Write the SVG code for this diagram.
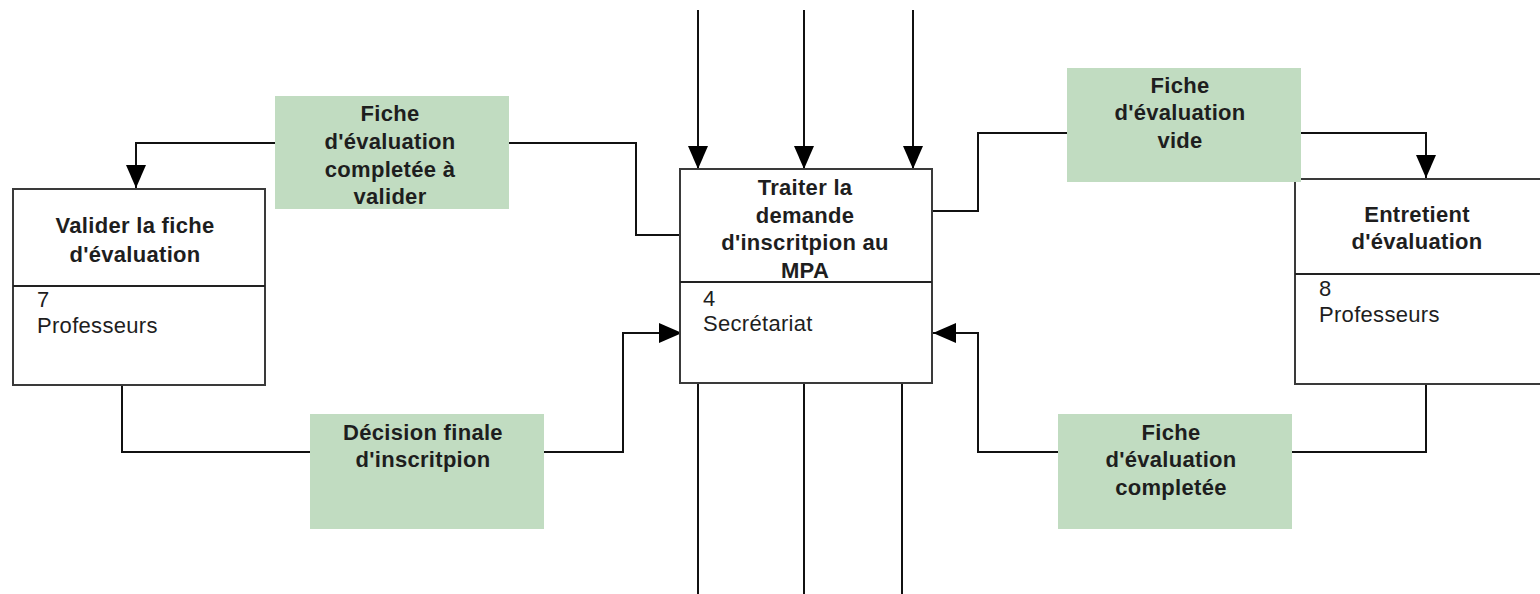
<svg xmlns="http://www.w3.org/2000/svg" width="1540" height="594" viewBox="0 0 1540 594">
<style>
.bg{fill:#ffffff}
.box{fill:#ffffff;stroke:#3a3a3a;stroke-width:2}
.div{stroke:#222;stroke-width:2}
.data{fill:#c1dcc1;stroke:none}
.con{fill:none;stroke:#111;stroke-width:2}
.t{font-family:"Liberation Sans",Arial,sans-serif;font-size:22px;fill:#1e1e1e;letter-spacing:0.3px}
.b{font-weight:bold;text-anchor:middle}
</style>
<defs>
<marker id="arr" markerUnits="userSpaceOnUse" markerWidth="24" markerHeight="22" refX="23" refY="10" orient="auto">
<path d="M0,0 L23,10 L0,20 Z" fill="#000"/>
</marker>
</defs>
<rect class="bg" x="0" y="0" width="1540" height="594"/>
<g id="connectors">
<line class="con" x1="698" y1="10" x2="698" y2="169" marker-end="url(#arr)"/>
<line class="con" x1="804" y1="10" x2="804" y2="169" marker-end="url(#arr)"/>
<line class="con" x1="913" y1="10" x2="913" y2="169" marker-end="url(#arr)"/>
<line class="con" x1="698" y1="384" x2="698" y2="594"/>
<line class="con" x1="804" y1="384" x2="804" y2="594"/>
<line class="con" x1="902" y1="384" x2="902" y2="594"/>
<polyline class="con" points="275,143 136,143 136,188" marker-end="url(#arr)"/>
<polyline class="con" points="509,143 636,143 636,235 683,235"/>
<polyline class="con" points="932,211 978,211 978,133 1067,133"/>
<polyline class="con" points="1301,133 1426,133 1426,178" marker-end="url(#arr)"/>
<polyline class="con" points="122,385 122,452 310,452"/>
<polyline class="con" points="544,452 623,452 623,333 682,333" marker-end="url(#arr)"/>
<polyline class="con" points="1058,452 978,452 978,333 933,333" marker-end="url(#arr)"/>
<polyline class="con" points="1292,452 1426,452 1426,384"/>
</g>
<g id="node-valider">
<rect class="box" x="13" y="189" width="252" height="196"/>
<line class="div" x1="13" y1="286" x2="265" y2="286"/>
<text class="t b" x="135" y="233">Valider la fiche</text>
<text class="t b" x="135" y="262">d'évaluation</text>
<text class="t" x="37" y="307">7</text>
<text class="t" x="37" y="333">Professeurs</text>
</g>
<g id="node-traiter">
<rect class="box" x="680" y="169" width="252" height="214"/>
<line class="div" x1="680" y1="282" x2="932" y2="282"/>
<text class="t b" x="805" y="195">Traiter la</text>
<text class="t b" x="805" y="223">demande</text>
<text class="t b" x="805" y="250">d'inscritpion au</text>
<text class="t b" x="805" y="278">MPA</text>
<text class="t" x="703" y="306">4</text>
<text class="t" x="703" y="331">Secrétariat</text>
</g>
<g id="node-entretient">
<rect class="box" x="1295" y="179" width="260" height="205"/>
<line class="div" x1="1295" y1="274" x2="1540" y2="274"/>
<text class="t b" x="1417" y="222">Entretient</text>
<text class="t b" x="1417" y="249">d'évaluation</text>
<text class="t" x="1319" y="296">8</text>
<text class="t" x="1319" y="322">Professeurs</text>
</g>
<g id="data-fiche-completee-valider">
<rect class="data" x="275" y="96" width="234" height="113"/>
<text class="t b" x="390" y="121">Fiche</text>
<text class="t b" x="390" y="149">d'évaluation</text>
<text class="t b" x="390" y="177">completée à</text>
<text class="t b" x="390" y="204">valider</text>
</g>
<g id="data-fiche-vide">
<rect class="data" x="1067" y="68" width="234" height="114"/>
<text class="t b" x="1180" y="93">Fiche</text>
<text class="t b" x="1180" y="120">d'évaluation</text>
<text class="t b" x="1180" y="148">vide</text>
</g>
<g id="data-decision">
<rect class="data" x="310" y="414" width="234" height="115"/>
<text class="t b" x="423" y="440">Décision finale</text>
<text class="t b" x="423" y="467">d'inscritpion</text>
</g>
<g id="data-fiche-completee">
<rect class="data" x="1058" y="414" width="234" height="115"/>
<text class="t b" x="1171" y="440">Fiche</text>
<text class="t b" x="1171" y="467">d'évaluation</text>
<text class="t b" x="1171" y="495">completée</text>
</g>
</svg>
